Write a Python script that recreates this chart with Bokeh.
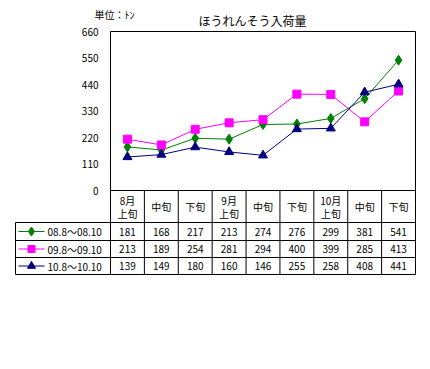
from bokeh.plotting import figure
from bokeh.models import Range1d, FixedTicker
from bokeh.core.properties import value
from bokeh.embed import file_html
from bokeh.resources import INLINE

FONT = "Noto Sans CJK JP"

months = ["8月", "", "", "9月", "", "", "10月", "", ""]
periods = ["上旬", "中旬", "下旬", "上旬", "中旬", "下旬", "上旬", "中旬", "下旬"]
series_names = ["08.8～08.10", "09.8～09.10", "10.8～10.10"]
s08 = [181, 168, 217, 213, 274, 276, 299, 381, 541]
s09 = [213, 189, 254, 281, 294, 400, 399, 285, 413]
s10 = [139, 149, 180, 160, 146, 255, 258, 408, 441]
y_ticks = [0, 110, 220, 330, 440, 550, 660]
title_text = "ほうれんそう入荷量"
unit_text = "単位：ﾄﾝ"

colors = ["#008000", "#FF00FF", "#000080"]
markers = ["diamond", "square", "triangle"]
msizes = [10, 8, 9]
series = [s08, s09, s10]

n = len(periods)
xs = [i + 0.5 for i in range(n)]
ymax = y_ticks[-1]

# page geometry (pixels) -> data units
ORG = 0                                   # canvas origin on the page
W, H = 422, 361
PL, PR, PT, PB = 110, 415, 31, 190       # plot frame in page pixels
cw = (PR - PL) / n                        # px per column
k = ymax / (PB - PT)                      # data units per px (y)

def dx(px):
    return (px - PL) / cw

def dy(py):
    return (PB - py) * k

p = figure(width=W, height=H, output_backend="svg", toolbar_location=None,
           x_range=Range1d(dx(ORG), dx(ORG + W)), y_range=Range1d(dy(ORG + H), dy(ORG)),
           min_border_left=0, min_border_right=0, min_border_top=0,
           min_border_bottom=0)
p.xaxis.visible = False
p.xgrid.visible = False
p.ygrid.visible = False
p.outline_line_color = None
p.background_fill_color = "white"
p.border_fill_color = "white"

ax = p.yaxis[0]
ax.fixed_location = 0
ax.bounds = (0, ymax)
ax.ticker = FixedTicker(ticks=y_ticks)
ax.axis_line_color = None
ax.major_tick_line_color = None
ax.minor_tick_line_color = None
ax.major_label_standoff = 6
ax.major_label_text_font = FONT
ax.major_label_text_font_size = "10px"
ax.major_label_text_color = "black"

# plot frame
p.quad(left=[0], right=[n], bottom=[0], top=[ymax], fill_color=None,
       line_color="black", line_width=1)

for vals, c, m, s in zip(series, colors, markers, msizes):
    p.line(xs, vals, line_color=c, line_width=1)
    p.scatter(xs, vals, marker=m, size=s, fill_color=c, line_color=c)

p.text([dx(252)], [dy(20)], text=[title_text], text_font=value(FONT),
       text_font_size="12px", text_align="center", text_baseline="middle",
       text_color="black")
p.text([dx(94)], [dy(14)], text=[unit_text], text_font=value(FONT),
       text_font_size="10px", text_align="left", text_baseline="middle",
       text_color="black")

# ---------- table ----------
left = dx(15)
row_y = [dy(222), dy(240), dy(257), dy(274)]
t_bottom = row_y[-1]
p.segment(x0=[left] * 4, y0=row_y, x1=[n] * 4, y1=row_y, line_color="black", line_width=1)
vx = list(range(n + 1))
p.segment(x0=vx, y0=[0] * len(vx), x1=vx, y1=[t_bottom] * len(vx), line_color="black", line_width=1)
p.segment(x0=[left], y0=[row_y[0]], x1=[left], y1=[t_bottom], line_color="black", line_width=1)

txt = dict(text_font=value(FONT), text_font_size="10px", text_align="center",
           text_baseline="middle", text_color="black")
top_x = [xs[i] for i in range(n) if months[i]]
top_t = [months[i] for i in range(n) if months[i]]
p.text(top_x, [dy(200)] * len(top_x), text=top_t, **txt)
low_t = [periods[i] for i in range(n) if months[i]]
p.text(top_x, [dy(213)] * len(top_x), text=low_t, **txt)
mid_x = [xs[i] for i in range(n) if not months[i]]
mid_t = [periods[i] for i in range(n) if not months[i]]
p.text(mid_x, [dy(206)] * len(mid_x), text=mid_t, **txt)

centers = [dy(231), dy(248.5), dy(265.5)]
lx0, lx1, mx, tx = dx(18), dx(44), dx(31), dx(47)
for vals, name, c, m, s, yc in zip(series, series_names, colors, markers, msizes, centers):
    p.segment(x0=[lx0], y0=[yc], x1=[lx1], y1=[yc], line_color=c, line_width=1)
    p.scatter([mx], [yc], marker=m, size=s - 1, fill_color=c, line_color=c)
    p.text([tx], [yc], text=[name], text_font=value(FONT), text_font_size="10px",
           text_align="left", text_baseline="middle", text_color="black")
    p.text(xs, [yc] * n, text=[str(v) for v in vals], **txt)

open("out.html", "w").write(file_html(p, INLINE))
